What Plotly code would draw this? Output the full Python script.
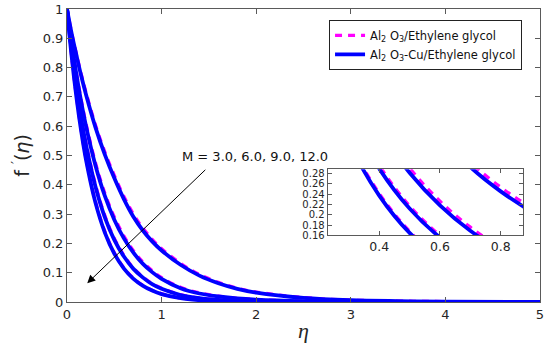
import plotly.graph_objects as go

eta = [0, 0.05, 0.1, 0.15, 0.2, 0.3, 0.4, 0.5, 0.6, 0.7, 0.8, 0.9, 1.0,
       1.2, 1.4, 1.6, 1.8, 2.0, 2.5, 3.0, 3.5, 4.0, 5.0]

M_labels = ["3.0", "6.0", "9.0", "12.0"]

# Al2O3-Cu / Ethylene glycol (solid blue)
cu_M3 = [1, 0.915, 0.842, 0.772, 0.709, 0.597, 0.503, 0.423, 0.352, 0.292, 0.245, 0.207, 0.176,
         0.127, 0.090, 0.064, 0.045, 0.032, 0.014, 0.006, 0.003, 0.0015, 0.0003]
cu_M6 = [1, 0.881, 0.776, 0.683, 0.602, 0.467, 0.362, 0.281, 0.218, 0.169, 0.131, 0.102, 0.079,
         0.047, 0.029, 0.019, 0.012, 0.008, 0.003, 0.001, 0.0004, 0.0001, 0]
cu_M9 = [1, 0.856, 0.733, 0.628, 0.538, 0.395, 0.289, 0.212, 0.156, 0.114, 0.084, 0.061, 0.045,
         0.024, 0.013, 0.007, 0.0038, 0.002, 0.0004, 0.0001, 0, 0, 0]
cu_M12 = [1, 0.835, 0.698, 0.583, 0.487, 0.340, 0.237, 0.165, 0.115, 0.080, 0.056, 0.039, 0.027,
          0.013, 0.0065, 0.0032, 0.0015, 0.0007, 0.0001, 0, 0, 0, 0]

# Al2O3 / Ethylene glycol (dashed magenta)
al_M3 = [1, 0.917, 0.846, 0.778, 0.716, 0.605, 0.512, 0.432, 0.361, 0.301, 0.253, 0.214, 0.182,
         0.132, 0.094, 0.067, 0.047, 0.034, 0.015, 0.0065, 0.003, 0.0015, 0.0003]
al_M6 = [1, 0.884, 0.781, 0.690, 0.610, 0.476, 0.371, 0.290, 0.226, 0.176, 0.137, 0.107, 0.083,
         0.050, 0.031, 0.020, 0.0125, 0.0083, 0.003, 0.001, 0.0004, 0.0001, 0]
al_M9 = [1, 0.858, 0.737, 0.633, 0.544, 0.401, 0.295, 0.217, 0.160, 0.117, 0.086, 0.063, 0.047,
         0.025, 0.0135, 0.0073, 0.004, 0.0021, 0.0004, 0.0001, 0, 0, 0]
al_M12 = [1, 0.837, 0.701, 0.587, 0.491, 0.344, 0.241, 0.168, 0.117, 0.082, 0.057, 0.040, 0.028,
          0.0135, 0.0068, 0.0034, 0.0016, 0.0008, 0.0001, 0, 0, 0, 0]

cu_series = [cu_M3, cu_M6, cu_M9, cu_M12]
al_series = [al_M3, al_M6, al_M9, al_M12]

name_al = "Al<sub>2</sub> O<sub>3</sub>/Ethylene glycol"
name_cu = "Al<sub>2</sub> O<sub>3</sub>-Cu/Ethylene glycol"

BLUE = "#0000ff"
MAG = "#ff00ff"
FONT = "DejaVu Sans"

fig = go.Figure()

for axes in [("x", "y"), ("x2", "y2")]:
    for i, ys in enumerate(al_series):
        fig.add_trace(go.Scatter(
            x=eta, y=ys, mode="lines", line=dict(color=MAG, width=3.3, dash="7px,6px", shape="spline"),
            name=name_al, legendgroup="al", showlegend=(i == 0 and axes[0] == "x"),
            xaxis=axes[0], yaxis=axes[1], hoverinfo="skip"))
    for i, ys in enumerate(cu_series):
        fig.add_trace(go.Scatter(
            x=eta, y=ys, mode="lines", line=dict(color=BLUE, width=3.8, shape="spline"),
            name=name_cu, legendgroup="cu", showlegend=(i == 0 and axes[0] == "x"),
            xaxis=axes[0], yaxis=axes[1], hoverinfo="skip"))

axis_common = dict(showline=True, linecolor="#5a5a5a", linewidth=1, mirror="ticks",
                   ticks="inside", tickcolor="#5a5a5a", showgrid=False,
                   zeroline=False, automargin=False)

fig.update_layout(
    width=550, height=344,
    margin=dict(l=67, r=10, t=9, b=42),
    paper_bgcolor="white", plot_bgcolor="white",
    font=dict(family=FONT, color="#262626"),
    xaxis=dict(range=[0, 5], dtick=1, ticklen=5, tickfont=dict(size=13, color="#262626"),
               title=dict(text="<i>η</i>", font=dict(family="Liberation Serif", size=22, color="#262626"),
                          standoff=2),
               **axis_common),
    yaxis=dict(range=[0, 1], dtick=0.1, ticklen=5, tickfont=dict(size=13, color="#262626"),
               title=dict(text="f <sup>′</sup>(<i>η</i>)", font=dict(family=FONT, size=19, color="#262626"),
                          standoff=8),
               **axis_common),
    xaxis2=dict(domain=[0.551, 0.965], anchor="y2", range=[0.23, 0.875], ticklen=4,
                tickvals=[0.4, 0.6, 0.8], tickfont=dict(size=12.5, color="#262626"),
                **axis_common),
    yaxis2=dict(domain=[0.227, 0.453], anchor="x2", range=[0.16, 0.2877], ticklen=4,
                tickvals=[0.16, 0.18, 0.2, 0.22, 0.24, 0.26, 0.28],
                ticktext=["0.16", "0.18", "0.2", "0.22", "0.24", "0.26", "0.28"],
                tickfont=dict(size=10, color="#262626"),
                **axis_common),
    legend=dict(x=0.554, y=0.963, xanchor="left", yanchor="top",
                bgcolor="white", bordercolor="#222222", borderwidth=1,
                font=dict(size=11.5, color="#111111", family=FONT),
                itemwidth=30, tracegroupgap=0),
    showlegend=True,
)

fig.add_annotation(x=0.214, y=0.064, ax=1.478, ay=0.456, xref="x", yref="y",
                   axref="x", ayref="y", text="", showarrow=True,
                   arrowhead=2, arrowsize=1.6, arrowwidth=1, arrowcolor="black")
fig.add_annotation(x=1.99, y=0.495, xref="x", yref="y", text="M = 3.0, 6.0, 9.0, 12.0",
                   showarrow=False, xanchor="center", yanchor="middle",
                   font=dict(size=13, color="#111111", family=FONT))

fig.write_html("out.html", config={"displayModeBar": False},
               post_script="document.body.style.margin='0';")
